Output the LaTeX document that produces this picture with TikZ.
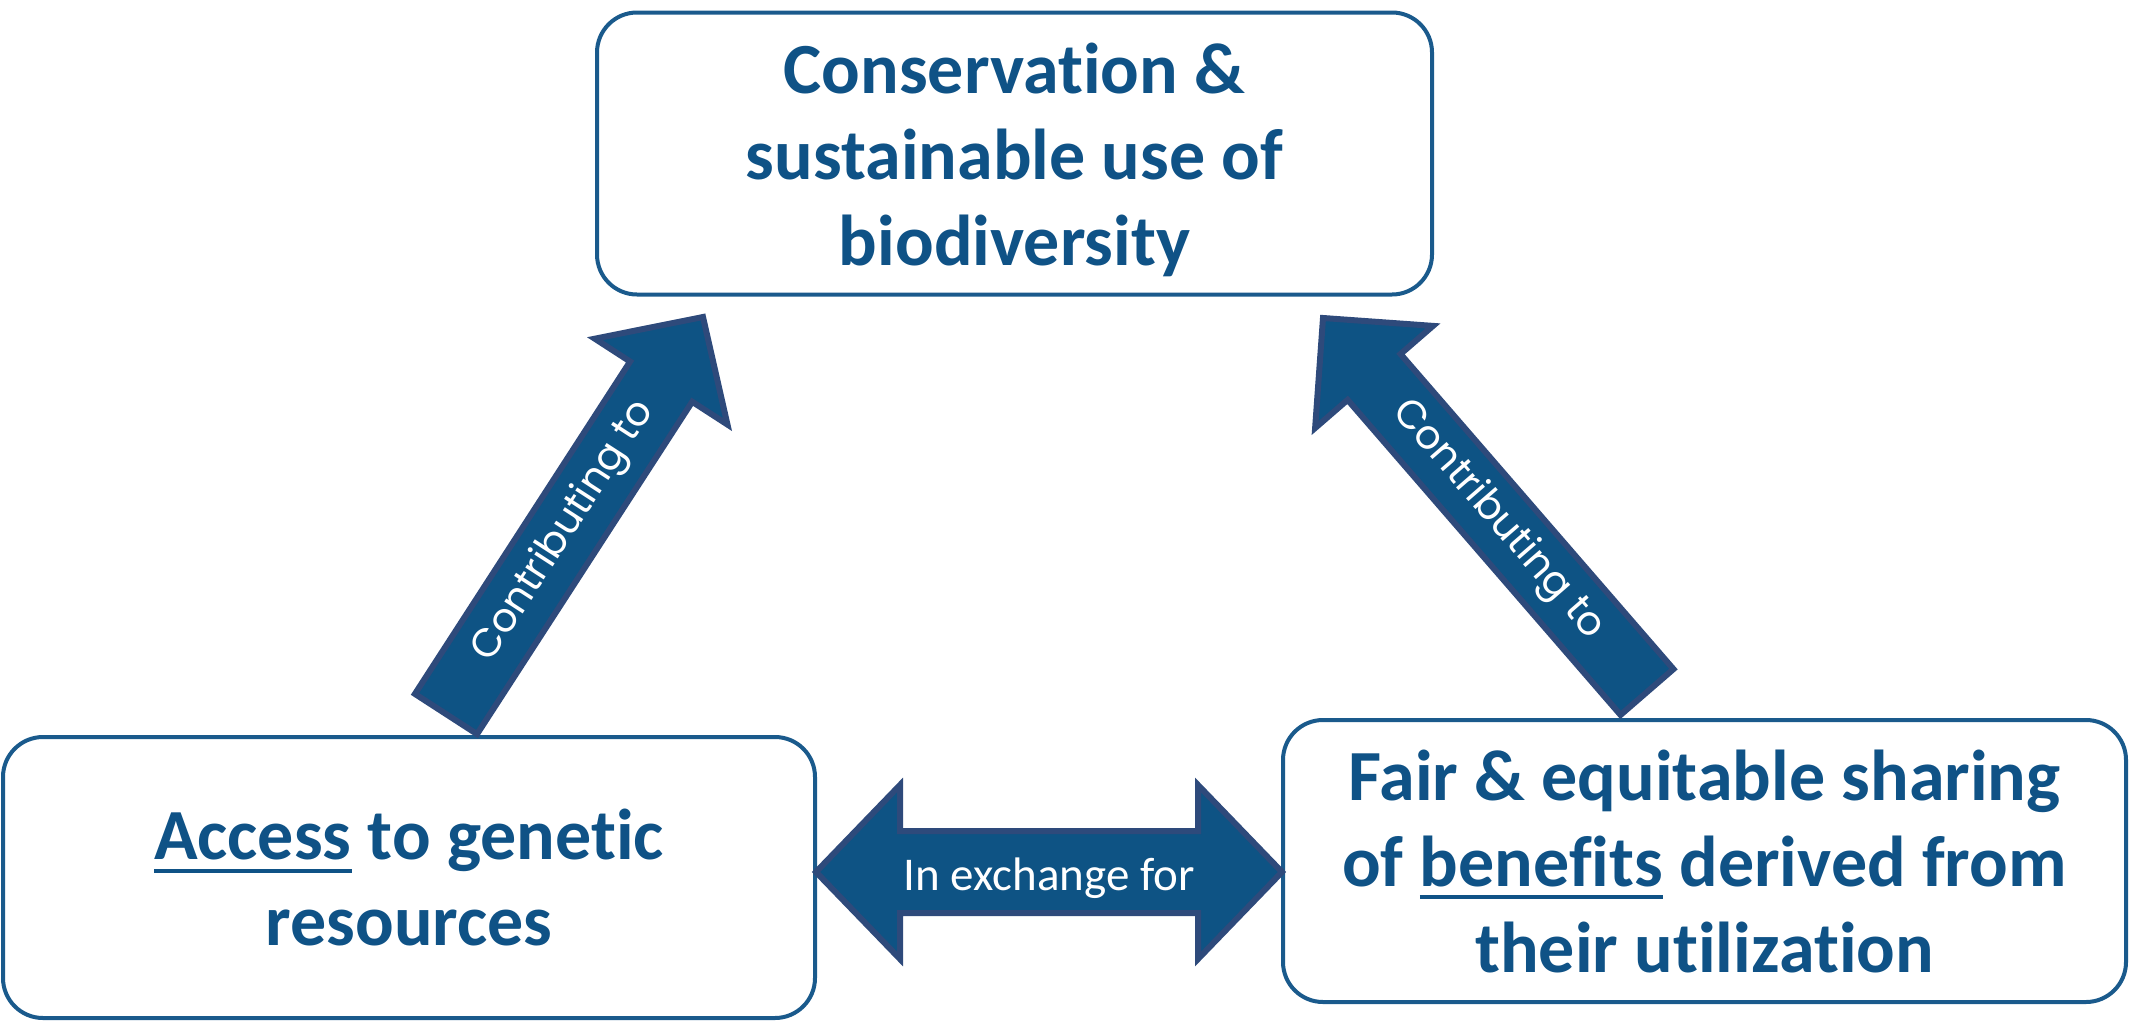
\documentclass[tikz,border=0pt]{standalone}
\usepackage{fontspec}
\setmainfont{Carlito}[Ligatures=NoCommon]
\newfontfamily\arrowfont{Poppins}
\usetikzlibrary{calc}

\definecolor{textblue}{HTML}{0F5286}
\definecolor{boxline}{HTML}{1A5A8C}
\definecolor{arrowfill}{HTML}{0E5384}
\definecolor{arrowline}{HTML}{2E4A7B}

% underline a word with a fixed rule below the baseline
\newsavebox\ulbox
\newcommand\ulword[1]{\sbox\ulbox{#1}\rlap{\rule[-13pt]{\wd\ulbox}{4pt}}\usebox\ulbox}

% block arrow from tail #1 to tip #2: half shaft #3, half head #4, head length #5
\newcommand\blockarrowpath[5]{%
  \coordinate (bah) at ($(#2)!#5!(#1)$);
  \draw[blockarrow] ($(#1)!#3!90:(#2)$) -- ($(bah)!#3!90:(#2)$) -- ($(bah)!#4!90:(#2)$)
    -- (#2) -- ($(bah)!#4!-90:(#2)$) -- ($(bah)!#3!-90:(#2)$) -- ($(#1)!#3!-90:(#2)$) -- cycle;
}

% double block arrow between tips #1 and #2
\newcommand\doubleblockarrow[5]{%
  \coordinate (dbh) at ($(#1)!#5!(#2)$);
  \coordinate (dbk) at ($(#2)!#5!(#1)$);
  \draw[blockarrow] (#1) -- ($(dbh)!#4!90:(#2)$) -- ($(dbh)!#3!90:(#2)$)
    -- ($(dbk)!#3!-90:(#1)$) -- ($(dbk)!#4!-90:(#1)$) -- (#2)
    -- ($(dbk)!#4!90:(#1)$) -- ($(dbk)!#3!90:(#1)$)
    -- ($(dbh)!#3!-90:(#2)$) -- ($(dbh)!#4!-90:(#2)$) -- cycle;
}

\begin{document}
\begin{tikzpicture}[x=1pt,y=-1pt,
  goalbox/.style={draw=boxline, line width=4pt, rounded corners=40pt, fill=white,
    text=textblue, align=center, inner sep=0pt,
    font=\fontsize{72}{86}\selectfont\bfseries},
  blockarrow/.style={fill=arrowfill, draw=arrowline, line width=6pt, line join=miter},
  arrowlabel/.style={text=white, inner sep=0pt, font=\arrowfont\fontsize{40}{48}\selectfont},
  exchlabel/.style={text=white, inner sep=0pt, font=\fontsize{47}{56}\selectfont}]
\useasboundingbox (0,0) rectangle (2129,1034);

% the three goals
\node[goalbox, minimum width=835pt, minimum height=282pt] (cons) at (1014.5,153.5)
  {\rule{0pt}{63pt}Conservation \&\\sustainable use of\\biodiversity};
\node[goalbox, minimum width=812pt, minimum height=281pt] (access) at (409,877.5)
  {\ulword{Access} to genetic\\resources};
\node[goalbox, minimum width=843pt, minimum height=282pt] (share) at (1704.5,861)
  {Fair \& equitable sharing\\of \ulword{benefits} derived from\\their utilization};

% arrow ends
\coordinate (a1) at ($(access.north)+(37,-21)$);
\coordinate (t1) at ($(cons.south)+(-311.5,20.5)$);
\coordinate (a2) at ($(share.north)+(-57.5,-26)$);
\coordinate (t2) at ($(cons.south)+(308.5,21.5)$);
\coordinate (x1) at ($(access.east)+(-1,-5.5)$);
\coordinate (x2) at ($(share.west)+(1,11)$);

% block arrows
\blockarrowpath{a1}{t1}{37pt}{79pt}{77pt}
\blockarrowpath{a2}{t2}{35pt}{78pt}{78pt}
\doubleblockarrow{x1}{x2}{41pt}{87pt}{84pt}

% arrow labels
\path (a1) -- node[arrowlabel, sloped, pos=0.46] (lab1) {Contributing to} (t1);
\path (a2) -- node[arrowlabel, sloped, pos=0.46] (lab2) {Contributing to} (t2);
\path (x1) -- node[exchlabel, pos=0.5, yshift=-6pt] (lab3) {In exchange for} (x2);
\end{tikzpicture}
\end{document}
